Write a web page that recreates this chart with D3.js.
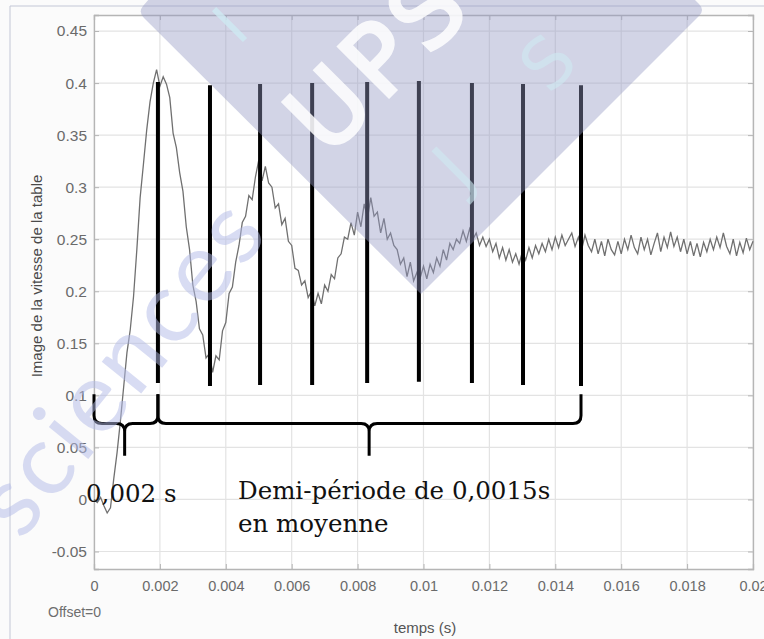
<!DOCTYPE html>
<html>
<head>
<meta charset="utf-8">
<script src="https://cdn.jsdelivr.net/npm/d3@7"></script>
<style>
  body { margin: 0; background: #fff; }
  svg { display: block; }
</style>
</head>
<body>
<div id="chart"></div>
<script>
const dt = 0.0001;
const vitesse = [
  0.000, -0.003, 0.002, -0.006, -0.013, -0.008, 0.020, 0.045, 0.075, 0.108,
  0.141, 0.163, 0.195, 0.240, 0.290, 0.322, 0.355, 0.382, 0.400, 0.413,
  0.397, 0.406, 0.399, 0.386,
  0.352, 0.338, 0.314, 0.296, 0.262, 0.240, 0.206, 0.190, 0.164, 0.158,
  0.136, 0.140, 0.122, 0.138, 0.134, 0.162,
  0.170, 0.198, 0.204, 0.228, 0.244, 0.266, 0.272, 0.292, 0.288, 0.310,
  0.326, 0.306, 0.320, 0.304, 0.300, 0.280, 0.284, 0.264, 0.270, 0.248,
  0.244, 0.222, 0.220, 0.206, 0.210, 0.194, 0.200, 0.186, 0.198, 0.188,
  0.206, 0.200, 0.216, 0.212, 0.232, 0.236, 0.252, 0.250, 0.266, 0.254,
  0.276, 0.262, 0.284, 0.270, 0.290, 0.272, 0.276, 0.256, 0.270, 0.250,
  0.256, 0.244, 0.240, 0.226, 0.232, 0.214, 0.228, 0.210, 0.218, 0.213,
  0.224, 0.212, 0.226, 0.218, 0.232, 0.224, 0.240, 0.230, 0.246, 0.240,
  0.250, 0.246, 0.258, 0.248, 0.260, 0.250, 0.256, 0.244, 0.252, 0.243,
  0.250, 0.238, 0.246, 0.232, 0.242, 0.230, 0.240, 0.228, 0.236, 0.226,
  0.238, 0.230, 0.242, 0.232, 0.244, 0.236, 0.246, 0.238, 0.250, 0.240,
  0.252, 0.242, 0.254, 0.244, 0.250, 0.256, 0.243, 0.252, 0.240, 0.254,
  0.244, 0.238, 0.250, 0.236, 0.248, 0.234, 0.250, 0.240, 0.235, 0.248,
  0.236, 0.250, 0.240, 0.254, 0.242, 0.236, 0.252, 0.240, 0.250, 0.235,
  0.246, 0.256, 0.238, 0.252, 0.242, 0.257, 0.243, 0.252, 0.238, 0.250,
  0.236, 0.248, 0.234, 0.246, 0.233, 0.247, 0.238, 0.250, 0.240, 0.252,
  0.242, 0.256, 0.243, 0.236, 0.250, 0.234, 0.247, 0.237, 0.251, 0.240,
  0.248
];

// traits verticaux (demi-périodes)
const traitsT = [0.00194, 0.00352, 0.00504, 0.00662, 0.00829, 0.00986, 0.01147, 0.01302, 0.01478];
const traitsHaut = [0.401, 0.398, 0.399, 0.400, 0.401, 0.402, 0.400, 0.399, 0.398];
const traitsBas = [0.112, 0.109, 0.110, 0.110, 0.112, 0.113, 0.112, 0.110, 0.109];

// accolades : [début, milieu, fin]
const accolades = [[0, 0.00093, 0.00194], [0.00194, 0.00835, 0.01478]];
const accoladeHaut = 0.101, accoladeLigne = 0.073, accoladePointe = 0.042;

const xTicks = [0, 0.002, 0.004, 0.006, 0.008, 0.01, 0.012, 0.014, 0.016, 0.018, 0.02];
const xTickLabels = ["0", "0.002", "0.004", "0.006", "0.008", "0.01", "0.012", "0.014", "0.016", "0.018", "0.02"];
const yTicks = [-0.05, 0, 0.05, 0.1, 0.15, 0.2, 0.25, 0.3, 0.35, 0.4, 0.45];
const yTickLabels = ["-0.05", "0", "0.05", "0.1", "0.15", "0.2", "0.25", "0.3", "0.35", "0.4", "0.45"];

const W = 764, H = 639;
const mLeft = 94, mRight = 753, mTop = 15, mBottom = 569;

const svg = d3.select("#chart").append("svg")
  .attr("width", W).attr("height", H);

svg.append("rect").attr("width", W).attr("height", H).attr("fill", "#fbfbfb");
// cadre de la capture
svg.append("path").attr("d", `M10,${H} L10,6 L${W},6`)
  .attr("fill", "none").attr("stroke", "#c3c7d6").attr("stroke-width", 1);

const x = d3.scaleLinear().domain([0, 0.02]).range([mLeft, mRight]);
const y = d3.scaleLinear().domain([-0.0668, 0.4654]).range([mBottom, mTop]);

svg.append("rect").attr("x", mLeft).attr("y", mTop)
  .attr("width", mRight - mLeft).attr("height", mBottom - mTop).attr("fill", "#fff");

// grille
svg.append("g").selectAll("line").data(xTicks).enter().append("line")
  .attr("x1", d => x(d)).attr("x2", d => x(d))
  .attr("y1", mTop).attr("y2", mBottom)
  .attr("stroke", "#e3e3e3").attr("stroke-width", 1.2);
svg.append("g").selectAll("line").data(yTicks).enter().append("line")
  .attr("x1", mLeft).attr("x2", mRight)
  .attr("y1", d => y(d)).attr("y2", d => y(d))
  .attr("stroke", "#e3e3e3").attr("stroke-width", 1.2);

// axes (ticks vers l'intérieur, style matlab)
const axX = svg.append("g").attr("transform", `translate(0,${mBottom})`)
  .call(d3.axisBottom(x).tickValues(xTicks).tickSize(-5).tickPadding(12)
    .tickFormat((d, i) => xTickLabels[i]));
const axY = svg.append("g").attr("transform", `translate(${mLeft},0)`)
  .call(d3.axisLeft(y).tickValues(yTicks).tickSize(-5).tickPadding(7)
    .tickFormat((d, i) => yTickLabels[i]));
svg.append("g").attr("transform", `translate(${mRight},0)`)
  .call(d3.axisRight(y).tickValues(yTicks).tickSize(-5).tickFormat(""));
svg.append("g").attr("transform", `translate(0,${mTop})`)
  .call(d3.axisTop(x).tickValues(xTicks).tickSize(-5).tickFormat(""));

svg.selectAll(".domain").attr("stroke", "#b5b5b5").attr("stroke-width", 1.3);
svg.selectAll(".tick line").attr("stroke", "#b5b5b5");
svg.selectAll(".tick text")
  .attr("fill", "#6a6a6a").style("font-family", "Liberation Sans, Arial, sans-serif");
axX.selectAll(".tick text").style("font-size", "14.5px");
axY.selectAll(".tick text").style("font-size", "15.5px");

svg.append("text").attr("x", 48).attr("y", 617)
  .text("Offset=0").attr("fill", "#6e6e6e")
  .style("font-family", "Liberation Sans, Arial, sans-serif").style("font-size", "14px");
svg.append("text").attr("x", 425).attr("y", 633).attr("text-anchor", "middle")
  .text("temps (s)").attr("fill", "#555")
  .style("font-family", "Liberation Sans, Arial, sans-serif").style("font-size", "15px");
svg.append("text")
  .attr("transform", "translate(42,276) rotate(-90)").attr("text-anchor", "middle")
  .text("Image de la vitesse de la table").attr("fill", "#4a4a4a")
  .style("font-family", "Liberation Sans, Arial, sans-serif").style("font-size", "15px");

// courbe
const line = d3.line().x((d, i) => x(i * dt)).y(d => y(d));
svg.append("path").datum(vitesse)
  .attr("d", line).attr("fill", "none")
  .attr("stroke", "#707070").attr("stroke-width", 1.3);

// traits noirs
svg.append("g").selectAll("line").data(traitsT).enter().append("line")
  .attr("x1", d => x(d)).attr("x2", d => x(d))
  .attr("y1", (d, i) => y(traitsHaut[i])).attr("y2", (d, i) => y(traitsBas[i]))
  .attr("stroke", "#000").attr("stroke-width", 4);

// accolades
function accolade(a) {
  const x0 = x(a[0]), xm = x(a[1]), x1 = x(a[2]);
  const yt = y(accoladeHaut), yl = y(accoladeLigne), yp = y(accoladePointe);
  const r = 8;
  return `M${x0},${yt} L${x0},${yl - r} Q${x0},${yl} ${x0 + r},${yl}` +
    ` L${xm - r},${yl} Q${xm},${yl} ${xm},${yl + r} L${xm},${yp}` +
    ` M${xm},${yl + r} Q${xm},${yl} ${xm + r},${yl}` +
    ` L${x1 - r},${yl} Q${x1},${yl} ${x1},${yl - r} L${x1},${yt}`;
}
svg.append("g").selectAll("path").data(accolades).enter().append("path")
  .attr("d", accolade).attr("fill", "none")
  .attr("stroke", "#000").attr("stroke-width", 3);

// annotations
const serif = "DejaVu Serif, serif";
svg.append("text").attr("x", 86).attr("y", 502).text("0,002 s")
  .style("font-family", serif).style("font-size", "24.5px").attr("fill", "#111");
svg.append("text").attr("x", 238).attr("y", 499).text("Demi-période de 0,0015s")
  .style("font-family", serif).style("font-size", "24.5px").attr("fill", "#111");
svg.append("text").attr("x", 238).attr("y", 532).text("en moyenne")
  .style("font-family", serif).style("font-size", "24.5px").attr("fill", "#111");

// filigrane
const wm = svg.append("g");
wm.append("path")
  .attr("d", "M150,-2 L143,6 Q138,12 144,18 L421,294 L699,16 Q705,10 699,4 L693,-2 Z")
  .attr("fill", "#9399c4").attr("opacity", 0.42);
wm.append("text").attr("transform", "translate(402,84) rotate(-45)")
  .attr("text-anchor", "middle").text("UPS")
  .attr("fill", "#fff").attr("stroke", "#fff").attr("stroke-width", 3)
  .attr("opacity", 0.85).attr("letter-spacing", 6)
  .style("font-family", "DejaVu Sans, sans-serif")
  .style("font-size", "98px");
wm.append("text").attr("transform", "translate(245,40) rotate(-45)")
  .attr("text-anchor", "middle").text("I")
  .attr("fill", "#cfeaf3").attr("opacity", 0.8)
  .style("font-family", "DejaVu Sans, sans-serif").style("font-size", "60px");
wm.append("text").attr("transform", "translate(470,185) rotate(-45)")
  .attr("text-anchor", "middle").text("J")
  .attr("fill", "#cfeaf3").attr("opacity", 0.6)
  .style("font-family", "DejaVu Sans, sans-serif").style("font-size", "70px");
wm.append("text").attr("transform", "translate(565,80) rotate(-45)")
  .attr("text-anchor", "middle").text("S")
  .attr("fill", "#cfeaf3").attr("opacity", 0.6)
  .style("font-family", "DejaVu Sans, sans-serif").style("font-size", "70px");
wm.append("text").attr("transform", "translate(272,232) rotate(-51)")
  .attr("text-anchor", "end").attr("letter-spacing", 4)
  .text("sciences").attr("fill", "#b3bbe8").attr("opacity", 0.5)
  .style("font-family", "Lato, sans-serif").style("font-size", "100px");
</script>
</body>
</html>
